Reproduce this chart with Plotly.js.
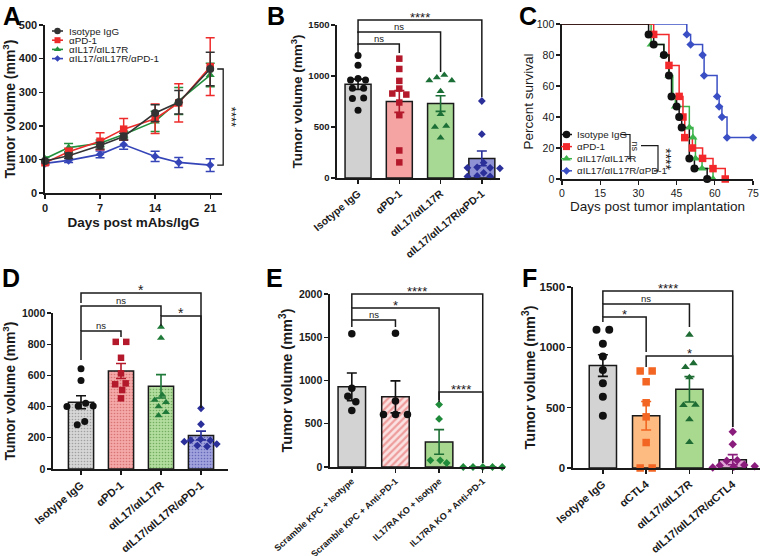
<!DOCTYPE html>
<html><head><meta charset="utf-8">
<script src="https://cdn.plot.ly/plotly-3.0.1.min.js"></script>
<style>html,body{margin:0;padding:0;background:#fff}#chart{width:763px;height:556px}</style>
</head><body><div id="chart"></div>
<script>
// ================= DATA =================
// Panel A: tumor growth (mean ± SEM)
const daysA = [0, 3, 7, 10, 14, 17, 21];
const groupsA = ['Isotype IgG', 'αPD-1', 'αIL17/αIL17R', 'αIL17/αIL17R/αPD-1'];
const isoA = [95, 111, 141, 168, 238, 270, 369];
const isoAerr = [5, 8, 10, 10, 25, 35, 50];
const pd1A = [90, 123, 154, 190, 221, 268, 376];
const pd1Aerr = [5, 10, 25, 32, 44, 57, 86];
const il17A = [102, 135, 148, 174, 213, 274, 351];
const il17Aerr = [5, 12, 10, 10, 30, 40, 35];
const comboA = [88, 97, 115, 144, 109, 91, 83];
const comboAerr = [5, 6, 10, 14, 15, 15, 19];

// Panel B: endpoint tumor volumes
const catsB = ['Isotype IgG', 'αPD-1', 'αIL17/αIL17R', 'αIL17/αIL17R/αPD-1'];
const meanB = [919, 750, 730, 192];
const semB = [50, 107, 77, 72];
const ptsB_iso = [1200, 1105, 975, 960, 960, 880, 880, 785, 780, 665];
const ptsB_pd1 = [1170, 1069, 952, 877, 828, 818, 740, 616, 270, 153];
const ptsB_il17 = [1010, 985, 955, 955, 850, 625, 510, 500, 395];
const ptsB_combo = [755, 430, 150, 105, 100, 100, 95, 50, 20, 15, 15];

// Panel C: survival (event day, percent survival)
const groupsC = ['Isotype IgG', 'αPD-1', 'αIL17/αIL17R', 'αIL17/αIL17R/αPD-1'];
const isoC_t = [34, 36, 40, 42, 43, 45, 46, 47, 50, 52, 57];
const isoC_s = [93.3, 86.7, 80, 66.7, 53.3, 46.7, 40, 33.3, 13.3, 6.7, 0];
const pd1C_t = [36, 42, 46, 47.5, 48.2, 51.2, 55.2, 59.3, 64.1];
const pd1C_s = [93.3, 73.3, 53.3, 40, 26.7, 20, 13.3, 6.7, 0];
const il17C_t = [35, 40, 42, 43.5, 44.5, 50, 51.4, 52.4, 55, 59.3];
const il17C_s = [86.7, 80, 66.7, 53.3, 46.7, 33.3, 26.7, 13.3, 6.7, 0];
const comboC_t = [49, 50.5, 55.2, 55.8, 60.9, 61.7, 62.8, 64.8, 75];
const comboC_s = [93.3, 86.7, 80, 66.7, 53.3, 46.7, 40, 26.7, 26.7];

// Panel D
const catsD = ['Isotype IgG', 'αPD-1', 'αIL17/αIL17R', 'αIL17/αIL17R/αPD-1'];
const meanD = [428, 628, 530, 215];
const semD = [42, 48, 75, 28];
const ptsD_iso = [643, 568, 421, 404, 404, 400, 304, 283];
const ptsD_pd1 = [815, 815, 713, 613, 549, 543, 506, 453];
const ptsD_il17 = [911, 840, 474, 443, 428, 400, 364, 343];
const ptsD_combo = [389, 287, 190, 185, 183, 175, 160, 150, 145];

// Panel E
const catsE = ['Scramble KPC + Isotype', 'Scramble KPC + Anti-PD-1', 'IL17RA KO + Isotype', 'IL17RA KO + Anti-PD-1'];
const meanE = [927, 811, 290, 0];
const semE = [160, 185, 142, 0];
const ptsE_scrIso = [1540, 911, 818, 753, 652];
const ptsE_scrPd1 = [1545, 764, 606, 606, 606];
const ptsE_koIso = [722, 556, 77, 77, 46];
const ptsE_koPd1 = [0, 0, 0, 0, 0];

// Panel F
const catsF = ['Isotype IgG', 'αCTL4', 'αIL17/αIL17R', 'αIL17/αIL17R/αCTL4'];
const meanF = [849, 433, 652, 69];
const semF = [90, 118, 105, 42];
const ptsF_iso = [1145, 1145, 1029, 923, 812, 702, 591, 433];
const ptsF_ctl4 = [804, 804, 715, 541, 424, 211, 0, 0];
const ptsF_il17 = [1104, 868, 835, 751, 524, 521, 402, 214];
const ptsF_combo = [300, 197, 65, 60, 25, 20, 15, 10, 5];

// ================= LAYOUT GEOMETRY =================
const W = 763, H = 556;
const FONT = 'Liberation Sans, Arial, sans-serif';
const INK = '#1a1a1a';
const G = {
  A: {l: 45, r: 222, t: 25, b: 193, xr: [0, 22.5], yr: [0, 500]},
  B: {l: 337, r: 500, t: 25, b: 178, xr: [-0.51, 3.44], yr: [0, 1500]},
  C: {l: 562, r: 753, t: 24, b: 179, xr: [0, 75], yr: [0, 100]},
  D: {l: 53, r: 228, t: 313, b: 469, xr: [-0.7, 3.675], yr: [0, 1000]},
  E: {l: 330, r: 505, t: 294, b: 467, xr: [-0.5, 3.51], yr: [0, 2000]},
  F: {l: 573, r: 760, t: 287, b: 468, xr: [-0.69, 3.63], yr: [0, 1500]}
};
function PX(g, v) { return g.l + (v - g.xr[0]) / (g.xr[1] - g.xr[0]) * (g.r - g.l); }
function PY(g, v) { return g.b - (v - g.yr[0]) / (g.yr[1] - g.yr[0]) * (g.b - g.t); }

const traces = [];
const shapes = [];
const annotations = [];
const layout = {
  width: W, height: H, margin: {l: 0, r: 0, t: 0, b: 0},
  paper_bgcolor: '#fff', plot_bgcolor: 'rgba(0,0,0,0)',
  font: {family: FONT, color: INK}, showlegend: false, barmode: 'overlay'
};

function axisBase(fontSize, weight) {
  return {showline: true, linecolor: INK, linewidth: 1.6, ticks: 'outside', ticklen: 4,
    tickwidth: 1.4, tickcolor: INK, showgrid: false, zeroline: false, fixedrange: true,
    tickfont: {family: FONT, size: fontSize, color: INK, weight: weight}};
}
function makeAxes(n, g, xo, yo) {
  const s = n === 1 ? '' : String(n);
  layout['xaxis' + s] = Object.assign(axisBase(xo.fs, xo.w), {domain: [g.l / W, g.r / W], range: g.xr, anchor: 'y' + s}, xo.extra || {});
  layout['yaxis' + s] = Object.assign(axisBase(yo.fs, yo.w), {domain: [1 - g.b / H, 1 - g.t / H], range: g.yr, anchor: 'x' + s}, yo.extra || {});
}
const tvTitle = (size, standoff) => ({text: 'Tumor volume (mm<sup>3</sup>)', font: {family: FONT, size: size, weight: 'bold', color: INK}, standoff: standoff});

// overlay pixel axes for decorations (brackets, legends, panel letters)
layout.xaxis7 = {domain: [0, 1], range: [0, W], visible: false, fixedrange: true, anchor: 'y7'};
layout.yaxis7 = {domain: [0, 1], range: [H, 0], visible: false, fixedrange: true, anchor: 'x7'};

function line(x0, y0, x1, y1, w, color) {
  shapes.push({type: 'line', xref: 'x7', yref: 'y7', x0, y0, x1, y1, line: {color: color || INK, width: w || 1.5}});
}
function text(x, y, t, opt) {
  opt = opt || {};
  annotations.push({xref: 'x7', yref: 'y7', x, y, text: t, showarrow: false,
    xanchor: opt.xa || 'center', yanchor: opt.ya || 'middle', textangle: opt.angle || 0,
    font: {family: FONT, size: opt.size || 10, color: opt.color || INK, weight: opt.weight || 'normal'}});
}
function bracket(g, a, b, y, ya, yb, t, tdy, tsize) {
  const xa = PX(g, a), xb = PX(g, b);
  shapes.push({type: 'path', xref: 'x7', yref: 'y7', path: `M${xa},${ya} L${xa},${y} L${xb},${y} L${xb},${yb}`, line: {color: INK, width: 1.5}});
  const isStar = t.indexOf('*') >= 0;
  text((xa + xb) / 2, y + (isStar ? (tdy || -3) : -5.5), t, {size: isStar ? (tsize || 13) : 9.5, weight: 'normal'});
}

// beeswarm horizontal offsets (in x data units) for dot plots
function swarm(vals, g, d) {
  const sy = (g.b - g.t) / (g.yr[1] - g.yr[0]);
  const sx = (g.r - g.l) / (g.xr[1] - g.xr[0]);
  const idx = vals.map((v, i) => i).sort((a, b) => vals[b] - vals[a]);
  const pos = [];
  idx.forEach(i => {
    const yp = vals[i] * sy;
    let off = 0;
    for (let k = 0; k < 80; k++) {
      const cand = k === 0 ? 0 : (k % 2 === 1 ? -1 : 1) * Math.ceil(k / 2) * d * 0.5;
      if (pos.every(p => Math.hypot(p.x - cand, p.y - yp) >= d * 1.02)) { off = cand; break; }
    }
    pos.push({i, x: off, y: yp});
  });
  pos.sort((a, b) => b.y - a.y);
  let start = 0;
  for (let k = 1; k <= pos.length; k++) {
    if (k === pos.length || pos[k - 1].y - pos[k].y >= d) {
      const grp = pos.slice(start, k);
      const m = grp.reduce((s, p) => s + p.x, 0) / grp.length;
      grp.forEach(p => p.x -= m);
      start = k;
    }
  }
  const out = new Array(vals.length);
  pos.forEach(p => out[p.i] = p.x / sx);
  return out;
}

function barPanel(n, g, means, sems, ptsList, st) {
  const s = n === 1 ? '' : String(n);
  means.forEach((m, i) => {
    const mk = {color: st.fill[i], line: {color: INK, width: 1.5}};
    if (st.pattern && st.pattern[i]) mk.pattern = st.pattern[i];
    traces.push({type: 'bar', x: [i], y: [m], width: 0.63, xaxis: 'x' + s, yaxis: 'y' + s,
      marker: mk, hoverinfo: 'skip', showlegend: false,
      error_y: {type: 'data', array: [sems[i]], visible: sems[i] > 0, color: st.err[i], thickness: 1.6, width: 5}});
  });
  ptsList.forEach((vals, i) => {
    const offs = swarm(vals, g, st.size[i] + 0.5);
    traces.push({type: 'scatter', mode: 'markers', x: vals.map((v, k) => i + offs[k]), y: vals,
      xaxis: 'x' + s, yaxis: 'y' + s, cliponaxis: false, showlegend: false, hoverinfo: 'skip',
      marker: {symbol: st.sym[i], size: st.size[i], color: st.pt[i], line: {width: 0}}});
  });
}

// ================= PANEL A =================
makeAxes(1, G.A,
  {fs: 11, w: 'bold', extra: {tickvals: [0, 7, 14, 21], title: {text: 'Days post mAbs/IgG', font: {family: FONT, size: 13.5, weight: 'bold', color: INK}, standoff: 5}}},
  {fs: 11, w: 'bold', extra: {tickvals: [0, 100, 200, 300, 400, 500], title: tvTitle(14, 4)}});
const seriesA = [
  {name: groupsA[3], y: comboA, e: comboAerr, color: '#3545b8', sym: 'diamond', size: 6.5},
  {name: groupsA[2], y: il17A, e: il17Aerr, color: '#22903c', sym: 'triangle-up', size: 8},
  {name: groupsA[1], y: pd1A, e: pd1Aerr, color: '#ee2b2b', sym: 'square', size: 7.5},
  {name: groupsA[0], y: isoA, e: isoAerr, color: '#333333', sym: 'circle', size: 8}
];
seriesA.forEach(sr => {
  traces.push({type: 'scatter', mode: 'lines+markers', x: daysA, y: sr.y, name: sr.name,
    xaxis: 'x', yaxis: 'y', cliponaxis: false, showlegend: false,
    line: {color: sr.color, width: 1.6},
    marker: {symbol: sr.sym, size: sr.size, color: sr.color},
    error_y: {type: 'data', array: sr.e, color: sr.color, thickness: 1.5, width: 4.5}});
});
// manual legend A
seriesA.slice().reverse().forEach((sr, k) => {
  const y = 31 + k * 9.2;
  line(52, y, 63, y, 1.6, sr.color);
  traces.push({type: 'scatter', mode: 'markers', x: [57.5], y: [y], xaxis: 'x7', yaxis: 'y7', showlegend: false, hoverinfo: 'skip',
    marker: {symbol: sr.sym, size: sr.size - 1.5, color: sr.color}});
  text(67, y, sr.name, {xa: 'left', size: 9.8});
});
// bracket A
{
  const xb = PX(G.A, 21) + 13;
  const y1 = PY(G.A, isoA[6]), y2 = PY(G.A, comboA[6]);
  shapes.push({type: 'path', xref: 'x7', yref: 'y7', path: `M${xb - 6},${y1} L${xb},${y1} L${xb},${y2} L${xb - 6},${y2}`, line: {color: INK, width: 1.3}});
  text(xb + 9, (y1 + y2) / 2, '****', {angle: 90, size: 13});
}

// ================= PANEL B =================
makeAxes(2, G.B,
  {fs: 10.5, w: 'bold', extra: {tickvals: [0, 1, 2, 3], ticktext: catsB, tickangle: -40}},
  {fs: 9.5, w: 'bold', extra: {tickvals: [0, 500, 1000, 1500], title: tvTitle(13.5, 2)}});
barPanel(2, G.B, meanB, semB, [ptsB_iso, ptsB_pd1, ptsB_il17, ptsB_combo], {
  fill: ['#d1d1d1', '#f5a3a3', '#a7d994', '#8e91d4'],
  err: ['#111111', '#b3192b', '#1b6e35', '#2a2f99'],
  pt: ['#111111', '#b3192b', '#1b6e35', '#2a2f99'],
  sym: ['circle', 'square', 'triangle-up', 'diamond'],
  size: [7, 6.5, 7, 6]
});
bracket(G.B, 0, 3, 20, 33, 97, '****');
bracket(G.B, 0, 2, 32, 45, 72, 'ns');
bracket(G.B, 0, 1, 44, 53, 53, 'ns');

// ================= PANEL C =================
makeAxes(3, G.C,
  {fs: 10.5, w: 'normal', extra: {tickvals: [0, 15, 30, 45, 60, 75], title: {text: 'Days post tumor implantation', font: {family: FONT, size: 13.5, color: INK}, standoff: 3}}},
  {fs: 10.5, w: 'normal', extra: {tickvals: [0, 20, 40, 60, 80, 100], title: {text: 'Percent survival', font: {family: FONT, size: 13.5, color: INK}, standoff: 0}}});
const seriesC = [
  {name: groupsC[3], t: comboC_t, s: comboC_s, color: '#3b4fc4', sym: 'diamond', size: 6.5},
  {name: groupsC[2], t: il17C_t, s: il17C_s, color: '#3cb44b', sym: 'triangle-up', size: 8},
  {name: groupsC[1], t: pd1C_t, s: pd1C_s, color: '#f2282b', sym: 'square', size: 7.5},
  {name: groupsC[0], t: isoC_t, s: isoC_s, color: '#111111', sym: 'circle', size: 8}
];
seriesC.forEach(sr => {
  traces.push({type: 'scatter', mode: 'lines', x: [0].concat(sr.t), y: [100].concat(sr.s), xaxis: 'x3', yaxis: 'y3',
    cliponaxis: false, showlegend: false, hoverinfo: 'skip', line: {shape: 'hv', color: sr.color, width: 1.5}});
});
seriesC.forEach(sr => {
  traces.push({type: 'scatter', mode: 'markers', x: sr.t, y: sr.s, xaxis: 'x3', yaxis: 'y3', name: sr.name,
    cliponaxis: false, showlegend: false, hoverinfo: 'skip', marker: {symbol: sr.sym, size: sr.size, color: sr.color}});
});
// manual legend C
const legCy = [];
seriesC.slice().reverse().forEach((sr, k) => {
  const y = 134.5 + k * 12.1;
  legCy.push(y);
  line(561, y, 572, y, 1.5, sr.color);
  traces.push({type: 'scatter', mode: 'markers', x: [566.5], y: [y], xaxis: 'x7', yaxis: 'y7', showlegend: false, hoverinfo: 'skip',
    marker: {symbol: sr.sym, size: sr.size - 0.5, color: sr.color}});
  text(575, y, sr.name, {xa: 'left', size: 9.8});
});
shapes.push({type: 'path', xref: 'x7', yref: 'y7', path: `M621,${legCy[0]} L630,${legCy[0]} L630,${legCy[2]} L628,${legCy[2]}`, line: {color: INK, width: 1.2}});
text(635, (legCy[0] + legCy[2]) / 2, 'ns', {angle: 90, size: 9});
const midC = (legCy[0] + legCy[2]) / 2 - 1;
shapes.push({type: 'path', xref: 'x7', yref: 'y7', path: `M641,${midC} L658,${midC} L658,${legCy[3]} L654,${legCy[3]}`, line: {color: INK, width: 1.2}});
text(666, (midC + legCy[3]) / 2 + 1, '****', {angle: 90, size: 14});

// ================= PANEL D =================
const dots = (bg, fg) => ({shape: '.', bgcolor: bg, fgcolor: fg, size: 3, solidity: 0.22, fillmode: 'replace'});
makeAxes(4, G.D,
  {fs: 11, w: 'bold', extra: {tickvals: [0, 1, 2, 3], ticktext: catsD, tickangle: -40}},
  {fs: 10.5, w: 'bold', extra: {tickvals: [0, 200, 400, 600, 800, 1000], title: tvTitle(14, 3)}});
barPanel(4, G.D, meanD, semD, [ptsD_iso, ptsD_pd1, ptsD_il17, ptsD_combo], {
  fill: ['#d6d6d6', '#f4a6a6', '#b0dc9c', '#9ea0dc'],
  pattern: [dots('#d6d6d6', '#a0a0a0'), dots('#f4a8a8', '#d87474'), dots('#b2dd9e', '#74ad60'), dots('#a0a2dd', '#6568b8')],
  err: ['#111111', '#b3192b', '#1f7a3a', '#2a2f99'],
  pt: ['#111111', '#b3192b', '#1f7a3a', '#2a2f99'],
  sym: ['circle', 'square', 'triangle-up', 'diamond'],
  size: [7, 6.5, 7, 6]
});
bracket(G.D, 0, 3, 293, 303, 408, '*', -3, 14);
bracket(G.D, 0, 2, 306, 331, 316, 'ns');
bracket(G.D, 0, 1, 331, 360, 337, 'ns');
bracket(G.D, 2, 3, 316, 326, 408, '*', -3, 14);

// ================= PANEL E =================
makeAxes(5, G.E,
  {fs: 9, w: 'bold', extra: {tickvals: [0, 1, 2, 3], ticktext: catsE, tickangle: -42}},
  {fs: 10.5, w: 'bold', extra: {tickvals: [0, 500, 1000, 1500, 2000], title: tvTitle(14.5, 3)}});
barPanel(5, G.E, meanE, semE, [ptsE_scrIso, ptsE_scrPd1, ptsE_koIso, ptsE_koPd1], {
  fill: ['#d3d3d3', '#fbe2e2', '#a8d890', '#a8d890'],
  pattern: [null, {shape: '/', bgcolor: '#fbe2e2', fgcolor: '#ee9c9c', size: 5, solidity: 0.45, fillmode: 'replace'}, null, null],
  err: ['#111111', '#111111', '#1f6e35', '#1f6e35'],
  pt: ['#111111', '#111111', '#1f8a3a', '#1f8a3a'],
  sym: ['circle', 'circle', 'diamond', 'diamond'],
  size: [7.5, 7.5, 6, 6]
});
bracket(G.E, 0, 3, 294, 308, 463, '****');
bracket(G.E, 0, 2, 308, 320, 402, '*');
bracket(G.E, 0, 1, 320, 327, 327, 'ns');
bracket(G.E, 2, 3, 392, 400, 463, '****');

// ================= PANEL F =================
makeAxes(6, G.F,
  {fs: 11, w: 'bold', extra: {tickvals: [0, 1, 2, 3], ticktext: catsF, tickangle: -40}},
  {fs: 11.5, w: 'bold', extra: {tickvals: [0, 500, 1000, 1500], title: tvTitle(14.5, 0)}});
barPanel(6, G.F, meanF, semF, [ptsF_iso, ptsF_ctl4, ptsF_il17, ptsF_combo], {
  fill: ['#d3d3d3', '#fdbb82', '#a9d98f', '#e2a6d6'],
  err: ['#111111', '#f26522', '#1e6b33', '#8a1c7c'],
  pt: ['#111111', '#f26522', '#1e6b33', '#8a1c7c'],
  sym: ['circle', 'square', 'triangle-up', 'diamond'],
  size: [8, 7.5, 7.5, 6.5]
});
bracket(G.F, 0, 3, 291, 304, 427, '****');
bracket(G.F, 0, 2, 304, 317, 327, 'ns');
bracket(G.F, 0, 1, 317, 322, 352, '*');
bracket(G.F, 1, 3, 356, 367, 427, '*');

// ================= PANEL LETTERS =================
[['A', 12, 0], ['B', 276, 0], ['C', 528, 0], ['D', 11, 262], ['E', 274, 262], ['F', 529, 262]].forEach(p => {
  text(p[1], p[2], p[0], {size: 25, weight: 'bold', color: '#000', ya: 'top'});
});

layout.shapes = shapes;
layout.annotations = annotations;
Plotly.newPlot('chart', traces, layout, {staticPlot: true, displayModeBar: false});
</script>
</body></html>
